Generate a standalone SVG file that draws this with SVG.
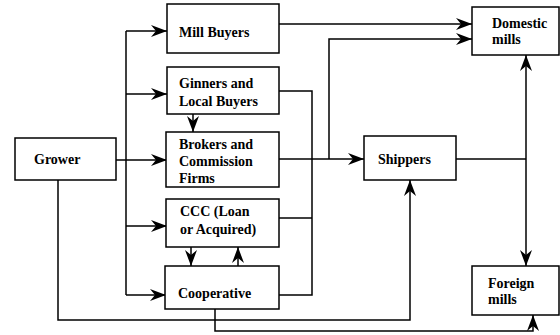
<svg xmlns="http://www.w3.org/2000/svg" width="560" height="335" viewBox="0 0 560 335">
<style>
.box{fill:#fff;stroke:#000;stroke-width:1.5}
.ln{fill:none;stroke:#000;stroke-width:1.5}
</style>
<defs>
<marker id="ah" viewBox="0 0 16 12" refX="16" refY="6" markerWidth="16" markerHeight="12" markerUnits="userSpaceOnUse" orient="auto">
<path d="M0,0 L16,6 L0,12 L5,6 z" fill="#000"/>
</marker>
</defs>
<rect width="560" height="335" fill="#fff"/>
<g id="connectors">
<path class="ln" d="M116,160 H126"/>
<path class="ln" d="M126,31 V295"/>
<path class="ln" d="M126,31 H167" marker-end="url(#ah)"/>
<path class="ln" d="M126,94 H167" marker-end="url(#ah)"/>
<path class="ln" d="M126,160 H167" marker-end="url(#ah)"/>
<path class="ln" d="M126,226 H167" marker-end="url(#ah)"/>
<path class="ln" d="M126,295 H166" marker-end="url(#ah)"/>
<path class="ln" d="M193,114 V132" marker-end="url(#ah)"/>
<path class="ln" d="M191,247 V266" marker-end="url(#ah)"/>
<path class="ln" d="M238,266 V247" marker-end="url(#ah)"/>
<path class="ln" d="M279,24 H472" marker-end="url(#ah)"/>
<path class="ln" d="M329,159 V39 H472" marker-end="url(#ah)"/>
<path class="ln" d="M279,91 H312 V295 H279"/>
<path class="ln" d="M279,218 H312"/>
<path class="ln" d="M279,159 H364" marker-end="url(#ah)"/>
<path class="ln" d="M456,159 H526"/>
<path class="ln" d="M526,159 V55" marker-end="url(#ah)"/>
<path class="ln" d="M526,159 V266" marker-end="url(#ah)"/>
<path class="ln" d="M58,180 V320 H410 V180" marker-end="url(#ah)"/>
<path class="ln" d="M215,309 V331 H533 V315" marker-end="url(#ah)"/>
</g>
<g font-family="'Liberation Serif', 'DejaVu Serif', serif" font-size="14" font-weight="bold" fill="#000">
<g id="grower"><rect class="box" x="15" y="138" width="101" height="42"/><text x="34" y="164">Grower</text></g>
<g id="mill-buyers"><rect class="box" x="167" y="4" width="112" height="49"/><text x="179" y="37">Mill Buyers</text></g>
<g id="ginners"><rect class="box" x="167" y="67" width="112" height="47"/><text x="179" y="88">Ginners and</text><text x="179" y="106">Local Buyers</text></g>
<g id="brokers"><rect class="box" x="166" y="132" width="113" height="55"/><text x="179" y="149">Brokers and</text><text x="179" y="166">Commission</text><text x="179" y="183">Firms</text></g>
<g id="ccc"><rect class="box" x="166" y="199" width="113" height="48"/><text x="180" y="216">CCC (Loan</text><text x="180" y="234">or Acquired)</text></g>
<g id="cooperative"><rect class="box" x="165" y="266" width="114" height="43"/><text x="178" y="298">Cooperative</text></g>
<g id="shippers"><rect class="box" x="364" y="136" width="92" height="44"/><text x="378" y="164">Shippers</text></g>
<g id="domestic-mills"><rect class="box" x="472" y="7" width="87" height="48"/><text x="492" y="28">Domestic</text><text x="492" y="44">mills</text></g>
<g id="foreign-mills"><rect class="box" x="472" y="266" width="87" height="49"/><text x="488" y="288">Foreign</text><text x="488" y="304">mills</text></g>
</g>
</svg>
